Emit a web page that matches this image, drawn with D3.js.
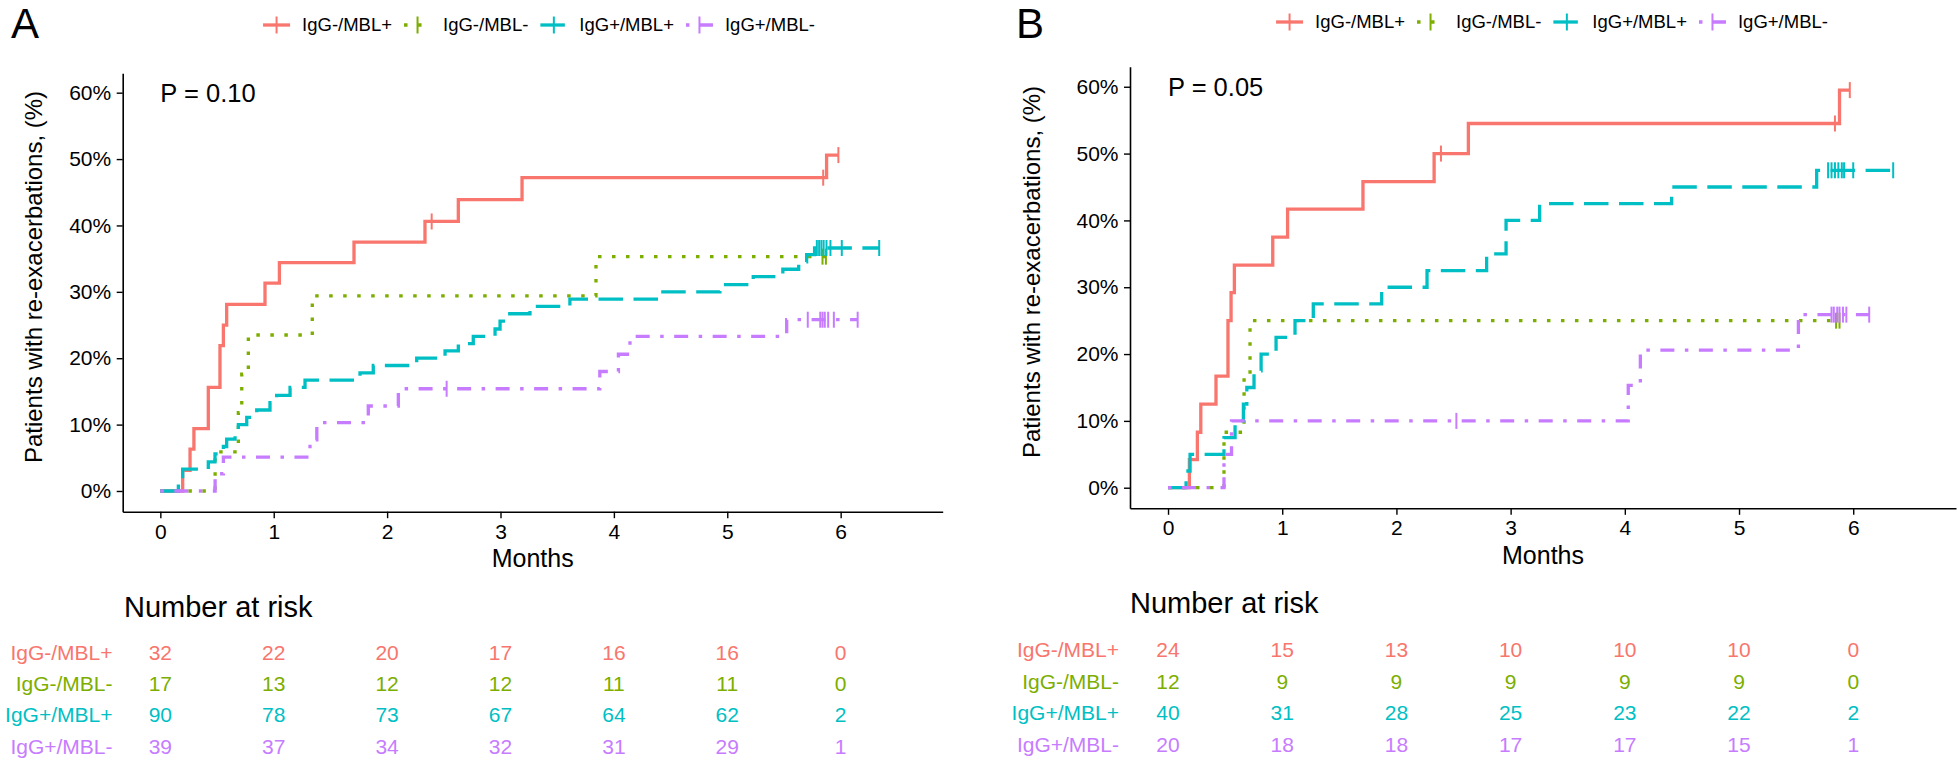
<!DOCTYPE html>
<html><head><meta charset="utf-8">
<script src="https://cdn.jsdelivr.net/npm/d3@7/dist/d3.min.js"></script>
<style>
body{margin:0;background:#fff;}
text{font-family:"Liberation Sans",Arial,Helvetica,sans-serif;}
</style>
</head><body>
<svg id="chart" width="1958" height="762" xmlns="http://www.w3.org/2000/svg"></svg>
<script>
// ---------------- DATA ----------------
const months = [0, 1, 2, 3, 4, 5, 6];
const yTicks = [0, 10, 20, 30, 40, 50, 60];
const groups = ["IgG-/MBL+", "IgG-/MBL-", "IgG+/MBL+", "IgG+/MBL-"];
const groupColors = ["#F8766D", "#7CAE00", "#00BFC4", "#C77CFF"];
const pValueA = "P = 0.10";
const pValueB = "P = 0.05";

// Panel A – step times (months) and cumulative % after each step
const A_t1 = [0.197, 0.262, 0.296, 0.423, 0.526, 0.556, 0.585, 0.923, 1.05, 1.708, 2.334, 2.628, 3.19, 5.876];
const A_v1 = [3.1, 6.3, 9.4, 15.6, 21.9, 25.0, 28.1, 31.3, 34.4, 37.5, 40.6, 43.9, 47.2, 50.6];
const A_end1 = 5.98;
const A_cens1 = [2.393, 5.846, 5.98];

const A_t2 = [0.483, 0.688, 0.718, 0.776, 1.34, 3.842];
const A_v2 = [5.9, 11.8, 17.6, 23.5, 29.4, 35.3];
const A_end2 = 5.87;
const A_cens2 = [5.84, 5.87];

const A_t3 = [0.159, 0.197, 0.423, 0.482, 0.556, 0.585, 0.659, 0.688, 0.762, 0.85, 0.967, 1.026, 1.144, 1.276, 1.761, 1.878, 2.261, 2.511, 2.628, 2.76, 2.952, 2.996, 3.025, 3.26, 3.612, 4.41, 4.935, 5.229, 5.49, 5.63, 5.70, 5.77];
const A_v3 = [1.1, 3.3, 4.4, 5.6, 6.7, 7.8, 8.9, 10.0, 11.1, 12.2, 13.3, 14.4, 15.6, 16.7, 17.8, 18.9, 20.0, 21.1, 22.2, 23.3, 24.4, 25.6, 26.7, 27.8, 28.9, 30.0, 31.1, 32.3, 33.4, 34.5, 35.6, 36.6];
const A_end3 = 6.34;
const A_cens3 = [5.79, 5.81, 5.83, 5.85, 5.875, 5.91, 6.01, 6.34];

const A_t4 = [0.483, 0.556, 1.32, 1.38, 1.834, 2.099, 3.876, 4.04, 4.142, 5.524];
const A_v4 = [2.6, 5.1, 7.7, 10.3, 12.8, 15.4, 18.0, 20.6, 23.3, 25.8];
const A_end4 = 6.15;
const A_cens4 = [2.525, 5.71, 5.82, 5.84, 5.86, 5.89, 5.94, 6.15];

// Panel B
const B_t1 = [0.187, 0.257, 0.287, 0.42, 0.525, 0.552, 0.581, 0.917, 1.047, 1.707, 2.33, 2.63, 5.88];
const B_v1 = [4.2, 8.3, 12.5, 16.7, 25.0, 29.2, 33.3, 37.5, 41.7, 45.8, 50.0, 54.5, 59.5];
const B_end1 = 5.97;
const B_cens1 = [2.39, 5.84, 5.97];

const B_t2 = [0.49, 0.666, 0.718];
const B_v2 = [8.3, 16.7, 25.0];
const B_end2 = 5.88;
const B_cens2 = [5.85, 5.88];

const B_t3 = [0.158, 0.193, 0.49, 0.587, 0.66, 0.69, 0.753, 0.815, 0.946, 1.112, 1.272, 1.871, 2.268, 2.79, 2.96, 3.254, 4.41, 5.68];
const B_v3 = [2.5, 5.0, 7.5, 10.0, 12.5, 15.0, 17.5, 20.0, 22.5, 25.0, 27.5, 30.0, 32.5, 35.0, 40.0, 42.5, 45.0, 47.5];
const B_end3 = 6.35;
const B_cens3 = [5.78, 5.81, 5.84, 5.87, 5.9, 5.92, 6.0, 6.35];

const B_t4 = [0.49, 0.556, 4.03, 4.136, 5.52];
const B_v4 = [5.0, 10.0, 15.3, 20.6, 25.9];
const B_end4 = 6.14;
const B_cens4 = [2.525, 5.81, 5.83, 5.86, 5.88, 5.91, 5.94, 6.14];

// Number at risk
const A_risk1 = [32, 22, 20, 17, 16, 16, 0];
const A_risk2 = [17, 13, 12, 12, 11, 11, 0];
const A_risk3 = [90, 78, 73, 67, 64, 62, 2];
const A_risk4 = [39, 37, 34, 32, 31, 29, 1];
const B_risk1 = [24, 15, 13, 10, 10, 10, 0];
const B_risk2 = [12, 9, 9, 9, 9, 9, 0];
const B_risk3 = [40, 31, 28, 25, 23, 22, 2];
const B_risk4 = [20, 18, 18, 17, 17, 15, 1];

// ---------------- STYLE / LAYOUT ----------------
const dashes = [null, "3.5,10.5", "24.5,10.5", "3.5,10.5,14,10.5"];
const lineW = 3.3;
const svg = d3.select("#chart");

const panels = [
  { letter: "A", letterX: 11, letterY: 37.5, pText: pValueA,
    left: 122.7, right: 942.7, top: 73.3, bottom: 511.7,
    xDom: [-0.332, 6.9], yDom: [-3.12, 62.92],
    legendCX: 539, legendY: 25,
    monthsX: 532.7, monthsY: 558, ylabX: 34, ylabY: 277,
    nrX: 124, nrY: 607, rowY: [653, 684, 715, 747], tabLabX: 112.5,
    curves: [[A_t1, A_v1, A_end1, A_cens1], [A_t2, A_v2, A_end2, A_cens2], [A_t3, A_v3, A_end3, A_cens3], [A_t4, A_v4, A_end4, A_cens4]],
    risk: [A_risk1, A_risk2, A_risk3, A_risk4] },
  { letter: "B", letterX: 1016, letterY: 37.5, pText: pValueB,
    left: 1130, right: 1956, top: 66.7, bottom: 508.3,
    xDom: [-0.333, 6.9], yDom: [-3.08, 63.0],
    legendCX: 1552, legendY: 22,
    monthsX: 1543, monthsY: 555, ylabX: 1032, ylabY: 272,
    nrX: 1130, nrY: 603, rowY: [650, 682, 713, 745], tabLabX: 1119,
    curves: [[B_t1, B_v1, B_end1, B_cens1], [B_t2, B_v2, B_end2, B_cens2], [B_t3, B_v3, B_end3, B_cens3], [B_t4, B_v4, B_end4, B_cens4]],
    risk: [B_risk1, B_risk2, B_risk3, B_risk4] }
];

function valueAt(ts, vs, t) {
  let v = 0;
  ts.forEach((tt, i) => { if (tt <= t + 1e-9) v = vs[i]; });
  return v;
}

function drawPanel(p) {
  const g = svg.append("g");
  const x = d3.scaleLinear().domain(p.xDom).range([p.left, p.right]);
  const y = d3.scaleLinear().domain(p.yDom).range([p.bottom, p.top]);

  // axes
  const gx = g.append("g").attr("transform", `translate(0,${p.bottom})`)
    .call(d3.axisBottom(x).tickValues(months).tickFormat(d3.format("d"))
      .tickSize(6.5).tickSizeOuter(0).tickPadding(5.5));
  const gy = g.append("g").attr("transform", `translate(${p.left},0)`)
    .call(d3.axisLeft(y).tickValues(yTicks).tickFormat(d => d + "%")
      .tickSize(6).tickSizeOuter(0).tickPadding(5.5));
  [gx, gy].forEach(a => {
    a.select(".domain").attr("stroke", "#000").attr("stroke-width", 1.6);
    a.selectAll(".tick line").attr("stroke", "#000").attr("stroke-width", 1.4);
    a.selectAll(".tick text").attr("fill", "#000").style("font-size", "21px")
      .style("font-family", '"Liberation Sans",Arial,sans-serif');
  });

  // curves
  const line = d3.line().x(d => x(d[0])).y(d => y(d[1])).curve(d3.curveStepAfter);
  p.curves.forEach((c, i) => {
    const [ts, vs, end, cens] = c;
    const pts = [[0, 0]].concat(ts.map((t, k) => [t, vs[k]]));
    pts.push([end, vs[vs.length - 1]]);
    g.append("path").attr("d", line(pts)).attr("fill", "none")
      .attr("stroke", groupColors[i]).attr("stroke-width", lineW)
      .attr("stroke-dasharray", dashes[i]).attr("stroke-linecap", "butt");
    cens.forEach(ct => {
      const v = valueAt(ts, vs, ct);
      g.append("line").attr("x1", x(ct)).attr("x2", x(ct))
        .attr("y1", y(v) - 8).attr("y2", y(v) + 8)
        .attr("stroke", groupColors[i]).attr("stroke-width", 2);
    });
  });

  // p-value
  g.append("text").attr("x", x(0)).attr("y", y(60)).attr("dy", "0.35em")
    .style("font-size", "25.5px").attr("fill", "#000").text(p.pText);

  // panel letter
  svg.append("text").attr("x", p.letterX).attr("y", p.letterY)
    .style("font-size", "42px").attr("fill", "#000").text(p.letter);

  // axis titles
  g.append("text").attr("x", p.monthsX).attr("y", p.monthsY).attr("dy", "0.35em")
    .attr("text-anchor", "middle").style("font-size", "25px").text("Months");
  g.append("text").attr("transform", `translate(${p.ylabX},${p.ylabY}) rotate(-90)`)
    .attr("dy", "0.35em").attr("text-anchor", "middle").style("font-size", "24px")
    .text("Patients with re-exacerbations, (%)");

  // legend
  const lg = svg.append("g");
  let cx = 0;
  groups.forEach((name, i) => {
    lg.append("line").attr("x1", cx).attr("x2", cx + 27).attr("y1", 0).attr("y2", 0)
      .attr("stroke", groupColors[i]).attr("stroke-width", lineW)
      .attr("stroke-dasharray", dashes[i]);
    lg.append("line").attr("x1", cx + 13.5).attr("x2", cx + 13.5).attr("y1", -8.5).attr("y2", 8.5)
      .attr("stroke", groupColors[i]).attr("stroke-width", 2);
    const t = lg.append("text").attr("x", cx + 39).attr("y", 0).attr("dy", "0.35em")
      .style("font-size", "18.5px").attr("fill", "#000").text(name);
    cx += 39 + t.node().getComputedTextLength() + 12;
  });
  const totalW = cx - 12;
  lg.attr("transform", `translate(${p.legendCX - totalW / 2},${p.legendY})`);

  // number at risk table
  svg.append("text").attr("x", p.nrX).attr("y", p.nrY).attr("dy", "0.35em")
    .style("font-size", "29px").attr("fill", "#000").text("Number at risk");
  groups.forEach((name, i) => {
    svg.append("text").attr("x", p.tabLabX).attr("y", p.rowY[i]).attr("dy", "0.35em")
      .attr("text-anchor", "end").style("font-size", "21px")
      .attr("fill", groupColors[i]).text(name);
    p.risk[i].forEach((n, k) => {
      svg.append("text").attr("x", x(months[k])).attr("y", p.rowY[i]).attr("dy", "0.35em")
        .attr("text-anchor", "middle").style("font-size", "21px")
        .attr("fill", groupColors[i]).text(n);
    });
  });
}

panels.forEach(drawPanel);
</script>
</body></html>
